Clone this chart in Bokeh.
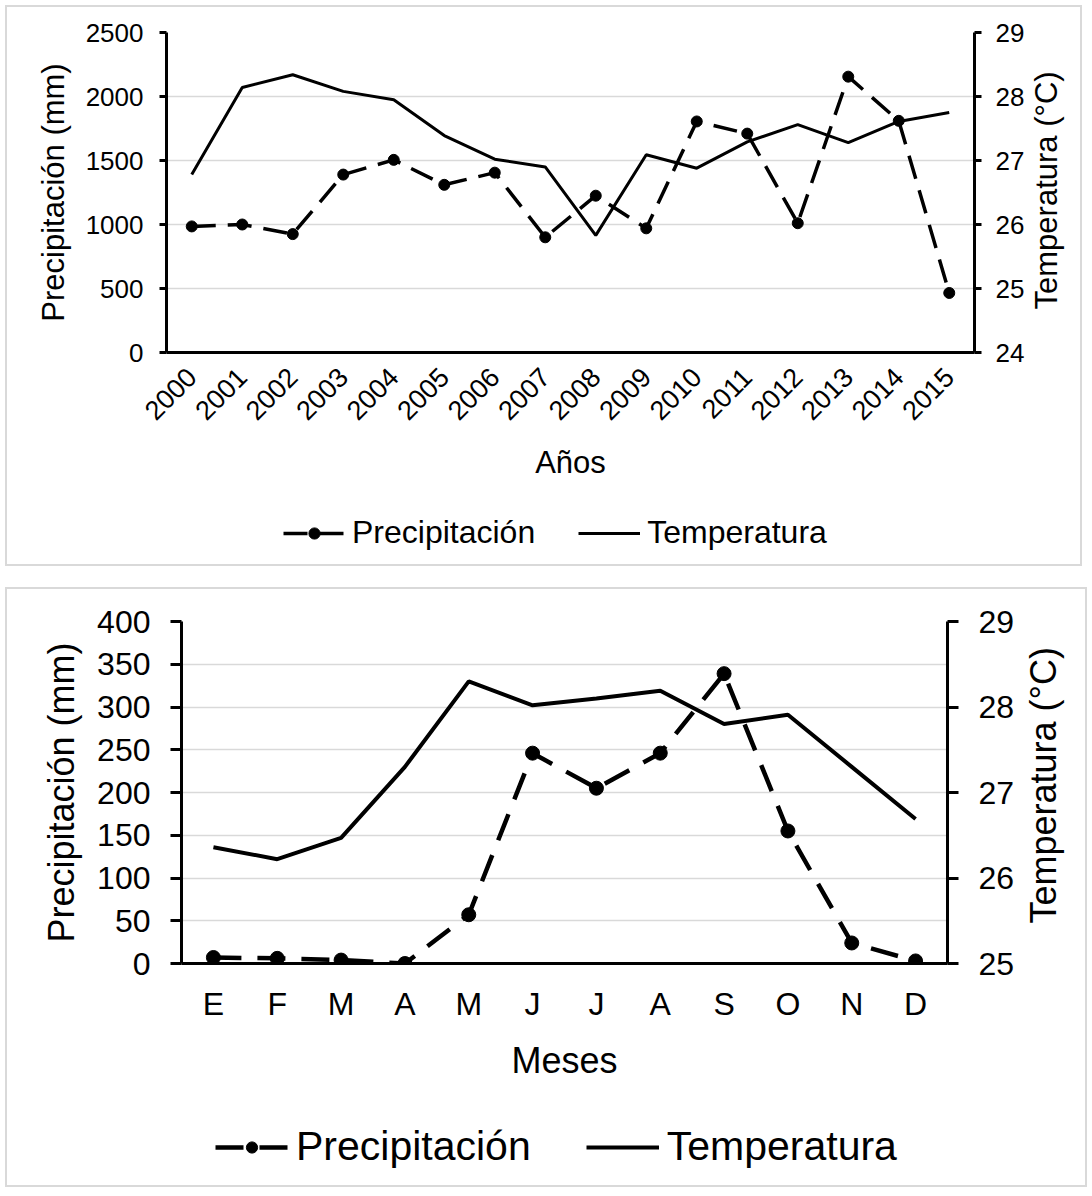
import math

from bokeh.embed import file_html
from bokeh.models import (CustomJSTickFormatter, FactorRange, FixedTicker,
                          Legend, LegendItem, LinearAxis, Range1d)
from bokeh.plotting import figure
from bokeh.resources import INLINE

FONT = "Liberation Sans"
GRID = "#d9d9d9"
BOX = "2px solid #d9d9d9"
NBSP = "\u00a0"

# ---- annual series, 2000-2015 ----
years = [str(y) for y in range(2000, 2016)]
precip_annual = [985, 1000, 925, 1390, 1505, 1310, 1405, 900,
                 1225, 970, 1805, 1710, 1010, 2155, 1810, 465]
temp_annual = [26.78, 28.14, 28.34, 28.08, 27.95, 27.39, 27.02, 26.90,
               25.83, 27.09, 26.88, 27.29, 27.56, 27.28, 27.61, 27.75]

# ---- monthly climatology ----
month_keys = ["ene", "feb", "mar", "abr", "may", "jun",
              "jul", "ago", "sep", "oct", "nov", "dic"]
month_labels = ["E", "F", "M", "A", "M", "J", "J", "A", "S", "O", "N", "D"]
precip_monthly = [7, 6, 4, 0, 57, 246, 205, 246, 339, 155, 24, 3]
temp_monthly = [26.36, 26.22, 26.47, 27.30, 28.30, 28.02,
                28.10, 28.19, 27.80, 27.91, 27.30, 26.69]


def style_axis(ax, tick_size, title_size, tick_out, standoff, title_standoff):
    ax.axis_line_color = "black"
    ax.axis_line_width = 3
    ax.major_tick_line_color = "black"
    ax.major_tick_line_width = 3
    ax.major_tick_out = tick_out
    ax.major_tick_in = 0
    ax.minor_tick_line_color = None
    ax.major_label_text_font = FONT
    ax.major_label_text_font_size = f"{tick_size}px"
    ax.major_label_text_color = "black"
    ax.major_label_standoff = standoff
    ax.axis_label_text_font = FONT
    ax.axis_label_text_font_style = "normal"
    ax.axis_label_text_font_size = f"{title_size}px"
    ax.axis_label_text_color = "black"
    ax.axis_label_standoff = title_standoff


def line_styles(line_w, dash, marker_size):
    precip_line = dict(line_color="black", line_width=line_w, line_dash=dash)
    precip_dot = dict(marker="circle", size=marker_size,
                      fill_color="black", line_color="black")
    temp_line = dict(line_color="black", line_width=line_w - 0.5)
    return precip_line, precip_dot, temp_line


def build_panel(factors, precip, temp, *, p_max, p_step, t_lo, t_hi,
                size, borders, tick_size, x_tick_size, title_size, tick_out,
                y_standoff, x_title, x_orient, x_standoff, x_title_standoff,
                styles, r_standoff, r_title_standoff, r_title_pad,
                x_formatter=None):
    top, right, bottom, left = borders
    p = figure(x_range=FactorRange(*factors), y_range=Range1d(0, p_max),
               width=size[0], height=size[1],
               min_border_top=top, min_border_right=right,
               min_border_bottom=bottom, min_border_left=left,
               output_backend="svg", toolbar_location=None,
               background_fill_color="white", border_fill_color="white")
    p.outline_line_color = None
    p.extra_y_ranges = {"temp": Range1d(t_lo, t_hi)}

    p_ticks = list(range(0, p_max + 1, p_step))
    p.yaxis.ticker = FixedTicker(ticks=p_ticks)
    p.ygrid.ticker = FixedTicker(ticks=p_ticks)
    p.ygrid.grid_line_color = GRID
    p.ygrid.grid_line_width = 1.5
    p.xgrid.grid_line_color = None

    yax = p.yaxis[0]
    yax.axis_label = "Precipitación (mm)"
    style_axis(yax, tick_size, title_size, tick_out, y_standoff, 12)

    rax = LinearAxis(y_range_name="temp",
                     ticker=FixedTicker(ticks=list(range(t_lo, t_hi + 1))),
                     axis_label="Temperatura (°C)")
    style_axis(rax, tick_size, title_size, tick_out, r_standoff,
               r_title_standoff)
    props = rax.properties()
    if "axis_label_orientation" in props and "axis_label_align" in props:
        # read bottom-to-top, like the left-hand title: the rotated text
        # runs upward from the foot of the axis, lifted by a few spaces
        rax.axis_label_orientation = math.pi / 2
        rax.axis_label_align = "start"
        rax.axis_label = NBSP * r_title_pad + "Temperatura (°C)"
    p.add_layout(rax, "right")

    xax = p.xaxis[0]
    xax.axis_label = x_title
    style_axis(xax, x_tick_size, title_size, 0, x_standoff, x_title_standoff)
    xax.major_tick_line_color = None
    xax.major_label_orientation = x_orient
    if x_formatter is not None:
        xax.formatter = x_formatter

    precip_line, precip_dot, temp_line = styles
    p.line(factors, precip, **precip_line)
    p.scatter(factors, precip, **precip_dot)
    p.line(factors, temp, y_range_name="temp", **temp_line)
    p.styles = {"border": BOX, "border-bottom": "none"}
    return p


def build_legend(size, styles, font_size, glyph_w, standoff, spacing, loc):
    """Strip under a panel that carries its key."""
    p = figure(width=size[0], height=size[1], x_range=Range1d(0, 1),
               y_range=Range1d(0, 1), x_axis_type=None, y_axis_type=None,
               min_border=0, output_backend="svg", toolbar_location=None,
               background_fill_color="white", border_fill_color="white")
    p.outline_line_color = None
    p.grid.visible = False
    precip_line, precip_dot, temp_line = styles
    nan = [float("nan")]
    pl = p.line(nan, nan, **precip_line)
    ps = p.scatter(nan, nan, **precip_dot)
    tl = p.line(nan, nan, **temp_line)
    legend = Legend(items=[LegendItem(label="Precipitación",
                                      renderers=[pl, ps]),
                           LegendItem(label="Temperatura", renderers=[tl])],
                    orientation="horizontal", location=loc,
                    border_line_color=None, background_fill_alpha=0,
                    label_text_font=FONT,
                    label_text_font_size=f"{font_size}px",
                    label_text_color="black",
                    glyph_width=glyph_w, glyph_height=28,
                    label_standoff=standoff, spacing=spacing,
                    padding=0, margin=0)
    p.add_layout(legend)
    p.styles = {"border": BOX, "border-top": "none"}
    return p


styles1 = line_styles(3.5, "24 12", 11)
p1 = build_panel(years, precip_annual, temp_annual,
                 p_max=2500, p_step=500, t_lo=24, t_hi=29,
                 size=(1077, 495), borders=(25, 110, 150, 159),
                 tick_size=26, x_tick_size=27, title_size=31, tick_out=7,
                 y_standoff=16, x_title="Años", x_orient=math.pi / 4,
                 x_standoff=20, x_title_standoff=14, styles=styles1,
                 r_standoff=14, r_title_standoff=19, r_title_pad=5)
p1.margin = (5, 0, 0, 5)
leg1 = build_legend((1077, 66), styles1, 32, 62, 7, 43, (276, 15))
leg1.margin = (0, 0, 0, 5)

month_formatter = CustomJSTickFormatter(
    args=dict(keys=month_keys, labels=month_labels),
    code="return labels[keys.indexOf(tick)];")

styles2 = line_styles(4.5, "28 16", 14)
p2 = build_panel(month_keys, precip_monthly, temp_monthly,
                 p_max=400, p_step=50, t_lo=25, t_hi=29,
                 size=(1082, 504), borders=(32, 142, 130, 174),
                 tick_size=32, x_tick_size=32, title_size=36, tick_out=11,
                 y_standoff=20, x_title="Meses", x_orient="horizontal",
                 x_standoff=22, x_title_standoff=15, styles=styles2,
                 r_standoff=20, r_title_standoff=26, r_title_pad=4,
                 x_formatter=month_formatter)
p2.margin = (21, 0, 0, 5)
leg2 = build_legend((1082, 96), styles2, 41, 73, 8, 55, (208, 17))
leg2.margin = (0, 0, 0, 5)

open("out.html", "w").write(file_html([p1, leg1, p2, leg2], INLINE))
